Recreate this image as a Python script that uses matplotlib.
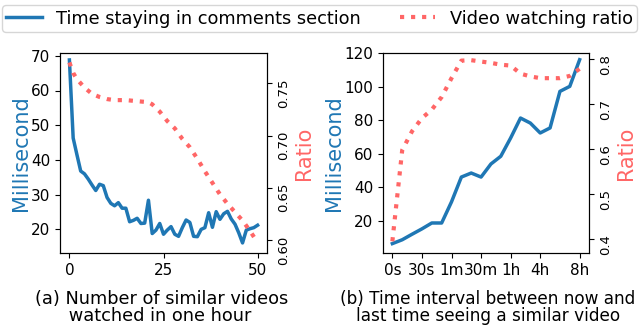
import numpy as np
import matplotlib
matplotlib.use('Agg')
import matplotlib.pyplot as plt

BLUE = '#1f77b4'
RED = '#ff6666'

# (a) number of similar videos watched in one hour
num_videos = list(range(0, 51))
time_a = [68.8, 46.3, 41.5, 36.8, 36.0, 34.5, 32.8, 31.2, 33.0, 32.6,
          29.2, 27.5, 26.8, 27.7, 26.1, 26.1, 22.2, 22.6, 23.2, 21.7,
          21.8, 28.4, 18.8, 19.8, 21.7, 18.6, 19.8, 20.8, 18.6, 18.0,
          20.5, 22.7, 22.0, 18.0, 17.9, 20.0, 20.5, 24.8, 20.6, 25.1,
          22.9, 24.5, 25.2, 23.0, 21.5, 19.0, 16.1, 19.8, 20.2, 20.5,
          21.2]
ratio_a_x = [0, 1, 2, 3, 4, 6, 8, 10, 12, 15, 18, 21, 22, 24, 26, 28, 30,
             32, 34, 36, 38, 40, 42, 44, 46, 48, 50]
ratio_a = [0.770, 0.760, 0.754, 0.750, 0.746, 0.740, 0.737, 0.735, 0.734,
           0.734, 0.733, 0.732, 0.730, 0.723, 0.714, 0.707, 0.697, 0.689,
           0.678, 0.666, 0.655, 0.644, 0.635, 0.627, 0.619, 0.609, 0.598]

# (b) time interval since last similar video
interval_idx = list(range(0, 20))
time_b = [6.5, 8.8, 12.1, 15.3, 18.8, 18.8, 31.4, 46.2, 48.6, 46.2,
          54.0, 58.6, 69.5, 81.4, 78.4, 72.5, 75.5, 97.3, 100.3, 116.2]
ratio_b = [0.395, 0.598, 0.640, 0.669, 0.688, 0.716, 0.758, 0.797, 0.798,
           0.795, 0.792, 0.788, 0.786, 0.768, 0.762, 0.758, 0.758, 0.758,
           0.763, 0.779]
tick_pos_b = [0, 3, 6, 9, 12, 15, 19]
tick_lab_b = ['0s', '30s', '1m', '30m', '1h', '4h', '8h']

fig = plt.figure(figsize=(6.4, 3.32), dpi=100)
W, H = 640.0, 332.0
ax1 = fig.add_axes([60 / W, 1 - 253 / H, 207 / W, 200 / H])
ax2 = fig.add_axes([383 / W, 1 - 253 / H, 206 / W, 200 / H])

TICK = 11
RTICK = 9.5
LAB = 15

# panel a
l1, = ax1.plot(num_videos, time_a, color=BLUE, lw=2.5,
               label='Time staying in comments section')
ax1.set_ylim(13.2, 70.8)
ax1.set_xlim(-2.5, 52.5)
ax1.set_xticks([0, 25, 50])
ax1.set_yticks([20, 30, 40, 50, 60, 70])
ax1.set_ylabel('Millisecond', color=BLUE, fontsize=LAB, labelpad=0)
ax1.tick_params(labelsize=TICK)
ax1r = ax1.twinx()
l2, = ax1r.plot(ratio_a_x, ratio_a, color=RED, lw=3, ls=':',
                label='Video watching ratio')
ax1r.set_ylim(0.588, 0.779)
ax1r.set_yticks([0.60, 0.65, 0.70, 0.75])
ax1r.set_yticklabels(['0.60', '0.65', '0.70', '0.75'])
ax1r.tick_params(labelsize=RTICK, labelrotation=90)
ax1r.set_ylabel('Ratio', color=RED, fontsize=LAB, labelpad=3)
ax1.set_xlabel('(a) Number of similar videos\n      watched in one hour',
               fontsize=12.8, multialignment='left', linespacing=0.95)
ax1.xaxis.set_label_coords(0.49, -0.185)

# panel b
ax2.plot(interval_idx, time_b, color=BLUE, lw=2.5)
ax2.set_ylim(0.9, 120.2)
ax2.set_xlim(-0.95, 19.95)
ax2.set_xticks(tick_pos_b)
ax2.set_xticklabels(tick_lab_b)
ax2.set_yticks([20, 40, 60, 80, 100, 120])
ax2.set_ylabel('Millisecond', color=BLUE, fontsize=LAB, labelpad=0)
ax2.tick_params(labelsize=TICK)
ax2r = ax2.twinx()
ax2r.plot(interval_idx, ratio_b, color=RED, lw=3, ls=':')
ax2r.set_ylim(0.369, 0.814)
ax2r.set_yticks([0.4, 0.5, 0.6, 0.7, 0.8])
ax2r.tick_params(labelsize=RTICK, labelrotation=90)
ax2r.set_ylabel('Ratio', color=RED, fontsize=LAB, labelpad=3)
ax2.set_xlabel('(b) Time interval between now and\nlast time seeing a similar video',
               fontsize=12.2, linespacing=0.95)
ax2.xaxis.set_label_coords(0.51, -0.185)

fig.legend(handles=[l1, l2], loc='lower left', ncol=2, mode='expand',
           bbox_to_anchor=(2 / W, 1 - 32 / H, 635 / W, 30 / H),
           borderaxespad=0, fontsize=12.8, borderpad=0.25)

fig.savefig('out.png', dpi=100)
